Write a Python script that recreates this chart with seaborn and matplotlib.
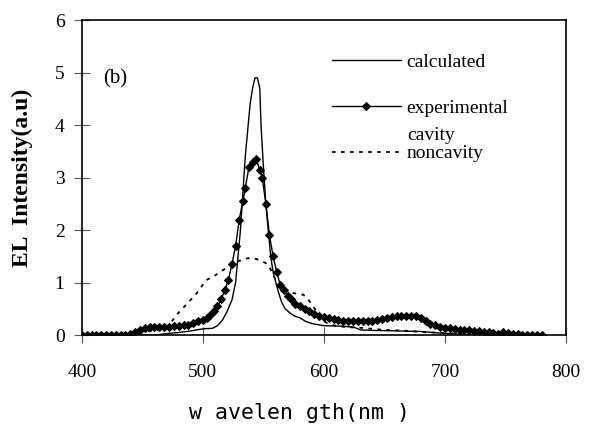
import pandas as pd
import seaborn as sns
import matplotlib
matplotlib.use("Agg")
import matplotlib.pyplot as plt

# calculated spectrum
calc_wl = [400, 460, 470, 480, 490, 500, 508, 512, 516, 520, 524, 527, 529, 531, 533, 535,
           537, 539, 541, 543, 545, 547, 548, 550, 552, 554, 556, 558, 562, 565, 568, 572,
           576, 580, 585, 590, 600, 615, 625, 630, 640, 660, 680, 695, 710, 720]
calc_int = [0, 0, 0.03, 0.05, 0.08, 0.12, 0.13, 0.18, 0.28, 0.45, 0.67, 1.0, 1.5, 2.0, 2.7, 3.4,
            3.9, 4.4, 4.7, 4.9, 4.9, 4.7, 4.0, 3.2, 2.5, 2.0, 1.5, 1.2, 0.85, 0.63, 0.5, 0.42,
            0.36, 0.33, 0.26, 0.22, 0.18, 0.17, 0.15, 0.1, 0.09, 0.08, 0.07, 0.04, 0.02, 0]

# experimental (cavity)
exp_wl = [400, 404, 408, 412, 416, 420, 424, 428, 432, 436, 440, 444, 448, 452, 456, 460,
          464, 468, 472, 476, 480, 484, 488, 492, 496, 500, 503, 506, 509, 512, 515, 518,
          521, 524, 527, 530, 533, 535, 538, 541, 544, 547, 549, 552, 555, 558, 561, 564,
          567, 570, 573, 576, 580, 584, 588, 592, 596, 600, 604, 608, 612, 616, 620, 624,
          628, 632, 636, 640, 644, 648, 652, 656, 660, 664, 668, 672, 676, 680, 684, 688,
          692, 696, 700, 704, 708, 712, 716, 720, 724, 728, 732, 736, 740, 744, 748, 752,
          756, 760, 764, 768, 772, 776, 780]
exp_int = [0, 0, 0, 0, 0, 0, 0, 0, 0, 0.01, 0.03, 0.05, 0.09, 0.13, 0.16, 0.15,
           0.16, 0.15, 0.16, 0.17, 0.17, 0.19, 0.2, 0.23, 0.26, 0.29, 0.33, 0.38, 0.45, 0.55, 0.68, 0.85,
           1.05, 1.35, 1.7, 2.2, 2.55, 2.8, 3.2, 3.3, 3.35, 3.15, 3.0, 2.5, 1.9, 1.5, 1.2, 0.95,
           0.85, 0.75, 0.68, 0.6, 0.55, 0.5, 0.45, 0.4, 0.37, 0.34, 0.32, 0.3, 0.28, 0.27, 0.27, 0.26,
           0.27, 0.26, 0.27, 0.27, 0.28, 0.3, 0.32, 0.34, 0.36, 0.37, 0.37, 0.37, 0.36, 0.32, 0.27, 0.22,
           0.19, 0.16, 0.14, 0.13, 0.11, 0.1, 0.1, 0.09, 0.08, 0.07, 0.06, 0.05, 0.04, 0.03, 0.05, 0.04,
           0.02, 0.02, 0.01, 0.01, 0.01, 0.01, 0.01]

# noncavity
nc_wl = [440, 448, 456, 464, 470, 474, 478, 482, 487, 491, 495, 499, 503, 507, 511, 515,
         520, 524, 528, 532, 536, 540, 544, 548, 552, 555, 558, 561, 564, 567, 571, 575,
         579, 583, 587, 590, 594, 597, 601, 605, 612, 620, 630, 640, 650, 660, 670, 680,
         690, 700, 710, 720, 735, 750]
nc_int = [0, 0.05, 0.08, 0.1, 0.15, 0.25, 0.38, 0.48, 0.6, 0.7, 0.8, 0.93, 1.05, 1.1, 1.15, 1.22,
          1.28, 1.35, 1.4, 1.43, 1.46, 1.47, 1.45, 1.42, 1.37, 1.3, 1.15, 1.0, 0.9, 0.86, 0.82, 0.8,
          0.78, 0.77, 0.68, 0.58, 0.45, 0.33, 0.25, 0.2, 0.17, 0.15, 0.14, 0.12, 0.1, 0.09, 0.08, 0.06,
          0.05, 0.04, 0.03, 0.02, 0.01, 0]

serif = "Liberation Serif"

fig = plt.figure(figsize=(5.89, 4.28), dpi=100)
ax = fig.add_axes([0.139, 0.217, 0.822, 0.736])

sns.lineplot(x=calc_wl, y=calc_int, ax=ax, color="black", lw=1.0, label="calculated")
sns.lineplot(x=exp_wl, y=exp_int, ax=ax, color="black", lw=1.0, marker="D",
             markersize=4.5, markeredgecolor="black", label="experimental")
sns.lineplot(x=nc_wl, y=nc_int, ax=ax, color="black", lw=1.3, linestyle=(0, (2, 3)),
             label="noncavity")

ax.set_xlim(400, 800)
ax.set_ylim(0, 6)
ax.set_xticks([400, 500, 600, 700, 800])
ax.set_yticks([0, 1, 2, 3, 4, 5, 6])
ax.tick_params(direction="inout", length=11, width=0.8, color="#555555")
ax.tick_params(axis="y", pad=7)
ax.tick_params(axis="x", pad=15)
for lab in ax.get_xticklabels() + ax.get_yticklabels():
    lab.set_fontfamily(serif)
    lab.set_fontsize(14)
for sp in ax.spines.values():
    sp.set_linewidth(1.2)

ax.set_ylabel("EL  Intensity(a.u)", fontfamily=serif, fontweight="bold", fontsize=17)
ax.yaxis.set_label_coords(-0.101, 0.5)
ax.set_xlabel("w avelen gth(nm )", fontfamily="DejaVu Sans Mono", fontsize=15.5)
ax.xaxis.set_label_coords(0.45, -0.215)

ax.text(0.043, 0.815, "(b)", transform=ax.transAxes, fontfamily=serif, fontsize=15,
        va="center")

leg = ax.legend(loc="upper left", bbox_to_anchor=(0.5, 0.92), frameon=False,
                prop={"family": serif, "size": 14}, handlelength=3.55,
                handletextpad=0.3, labelspacing=1.45, borderaxespad=0)
ax.text(0.672, 0.635, "cavity", transform=ax.transAxes, fontfamily=serif, fontsize=14,
        va="center")

fig.savefig("out.png", dpi=100)
